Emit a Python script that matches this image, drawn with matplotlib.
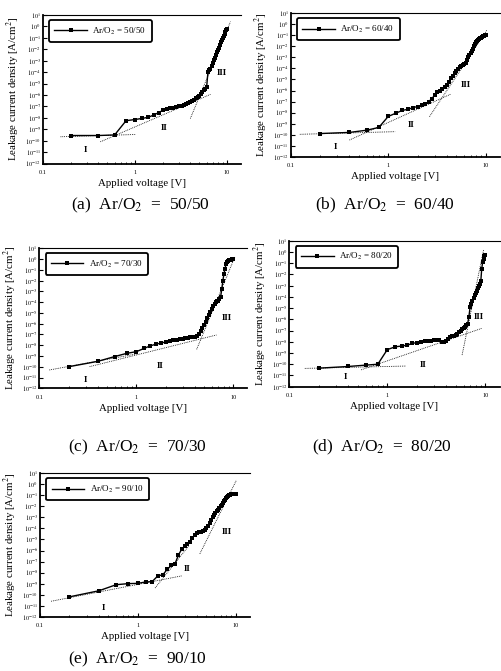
import numpy as np
import matplotlib
matplotlib.use("Agg")
import matplotlib.pyplot as plt
from matplotlib.ticker import FixedLocator, NullFormatter

plt.rcParams['font.family'] = ['Liberation Serif', 'DejaVu Serif']
plt.rcParams['mathtext.fontset'] = 'stix'

# applied voltage [V] of the measured points (same sweep in every panel)
VOLTS = [0.2, 0.4, 0.6, 0.8, 1.0, 1.2, 1.4, 1.6, 1.8, 2.0,
         2.2, 2.4, 2.6, 2.8, 3.0, 3.2, 3.4, 3.6, 3.8, 4.0,
         4.2, 4.4, 4.6, 4.8, 5.0, 5.2, 5.4, 5.6, 5.8, 6.0,
         6.2, 6.4, 6.6, 6.8, 7.0, 7.2, 7.4, 7.6, 7.8, 8.0,
         8.2, 8.4, 8.6, 8.8, 9.0, 9.2, 9.4, 9.6, 9.8, 10.0]

# log10 of leakage current density [A/cm2]
LOGJ_A = [-9.55, -9.55, -9.5, -8.25, -8.15, -8.05, -7.95, -7.75, -7.55, -7.35,
          -7.2, -7.15, -7.1, -7.05, -7.0, -6.95, -6.9, -6.8, -6.7, -6.6,
          -6.5, -6.4, -6.3, -6.2, -6.05, -5.9, -5.75, -5.6, -5.45, -5.3,
          -4.0, -3.85, -3.7, -3.45, -3.2, -2.95, -2.75, -2.5, -2.25, -2.05,
          -1.85, -1.6, -1.4, -1.2, -1.0, -0.85, -0.65, -0.5, -0.35, -0.25]
LOGJ_B = [-9.9, -9.8, -9.6, -9.35, -8.35, -8.05, -7.8, -7.7, -7.55, -7.45,
          -7.35, -7.25, -7.0, -6.75, -6.4, -6.15, -6.0, -5.85, -5.7, -5.5,
          -5.2, -4.9, -4.7, -4.45, -4.2, -4.05, -3.9, -3.8, -3.7, -3.6,
          -3.5, -3.25, -3.0, -2.8, -2.6, -2.4, -2.2, -1.95, -1.75, -1.6,
          -1.5, -1.4, -1.35, -1.25, -1.2, -1.15, -1.1, -1.05, -1.0, -0.95]
LOGJ_C = [-10.0, -9.5, -9.05, -8.75, -8.6, -8.3, -8.05, -7.9, -7.8, -7.7,
          -7.62, -7.55, -7.5, -7.45, -7.4, -7.35, -7.3, -7.28, -7.25, -7.2,
          -7.1, -6.95, -6.7, -6.4, -6.1, -5.8, -5.45, -5.15, -4.9, -4.6,
          -4.4, -4.2, -4.0, -3.9, -3.85, -3.75, -3.5, -2.8, -2.0, -1.4,
          -0.9, -0.5, -0.3, -0.2, -0.12, -0.08, -0.05, 0.0, 0.03, 0.05]
LOGJ_D = [-10.35, -10.2, -10.08, -10.0, -8.7, -8.45, -8.38, -8.3, -8.15, -8.07,
          -8.0, -7.95, -7.92, -7.9, -7.88, -7.85, -7.84, -8.05, -8.0, -7.9,
          -7.75, -7.6, -7.5, -7.45, -7.4, -7.3, -7.15, -7.0, -6.9, -6.8,
          -6.7, -6.55, -6.4, -5.8, -4.9, -4.6, -4.35, -4.1, -3.85, -3.65,
          -3.45, -3.25, -3.05, -2.85, -2.6, -1.5, -0.9, -0.6, -0.4, -0.3]
LOGJ_E = [-10.2, -9.65, -9.1, -9.0, -8.98, -8.85, -8.82, -8.3, -8.2, -7.7,
          -7.35, -7.2, -6.4, -5.9, -5.6, -5.4, -5.2, -4.9, -4.6, -4.45,
          -4.35, -4.3, -4.2, -4.1, -4.0, -3.8, -3.5, -3.25, -3.0, -2.8,
          -2.6, -2.45, -2.3, -2.15, -2.0, -1.85, -1.7, -1.55, -1.4, -1.27,
          -1.15, -1.05, -0.98, -0.95, -0.92, -0.9, -0.9, -0.88, -0.88, -0.87]

RATIOS = ["50/50", "60/40", "70/30", "80/20", "90/10"]
TAGS = ["(a)", "(b)", "(c)", "(d)", "(e)"]

# dotted fit lines: (V start, V end), (logJ start, logJ end)
FITS_A = [((0.155, 1.02), (-9.66, -9.46)), ((0.42, 6.6), (-10.1, -5.95)), ((3.99, 10.9), (-8.06, 0.42))]
FITS_B = [((0.124, 1.18), (-9.97, -9.73)), ((0.4, 4.4), (-10.49, -6.32)), ((2.65, 10.3), (-8.37, -0.51))]
FITS_C = [((0.127, 1.0), (-10.3, -8.81)), ((0.33, 6.7), (-9.99, -7.05)), ((4.19, 10.4), (-8.38, 0.23))]
FITS_D = [((0.144, 1.55), (-10.37, -10.16)), ((0.54, 9.25), (-10.5, -6.8)), ((5.8, 9.6), (-9.18, 0.17))]
FITS_E = [((0.13, 2.8), (-10.6, -8.3)), ((1.5, 3.3), (-9.4, -5.6)), ((4.3, 10.2), (-6.3, 0.4))]

# region labels: text, V, logJ
REGIONS_A = [("I", 0.29, -10.83), ("II", 2.05, -8.9), ("III", 8.8, -4.05)]
REGIONS_B = [("I", 0.287, -11.1), ("II", 1.73, -9.13), ("III", 6.2, -5.5)]
REGIONS_C = [("I", 0.3, -11.2), ("II", 1.75, -9.9), ("III", 8.5, -5.5)]
REGIONS_D = [("I", 0.37, -11.1), ("II", 2.3, -10.1), ("III", 8.5, -5.8)]
REGIONS_E = [("I", 0.44, -11.2), ("II", 3.2, -7.68), ("III", 8.05, -4.3)]

W, H = 501, 671
# axes boxes in pixels: left, right, top, bottom
BOXES = [(43, 240.5, 15, 163.5), (290.7, 500, 13.3, 156.7),
         (39.3, 247.5, 248.3, 388.3), (289.3, 499.6, 240.7, 386.7),
         (40, 250, 473.3, 616.7)]
CAPTIONS = [(140, 205), (385, 205), (137, 447), (382, 447), (137, 659)]

fig = plt.figure(figsize=(W / 100, H / 100), dpi=100)

panels = [(LOGJ_A, FITS_A, REGIONS_A), (LOGJ_B, FITS_B, REGIONS_B),
          (LOGJ_C, FITS_C, REGIONS_C), (LOGJ_D, FITS_D, REGIONS_D),
          (LOGJ_E, FITS_E, REGIONS_E)]

for i, (logj, fits, regions) in enumerate(panels):
    l, r, t, b = BOXES[i]
    ax = fig.add_axes([l / W, 1 - b / H, (r - l) / W, (b - t) / H])
    ax.set_xscale('log')
    ax.set_yscale('log')
    ax.set_xlim(0.1, 14)
    ax.set_ylim(1e-12, 1e1)

    ax.plot(VOLTS, np.power(10.0, logj), color='black', lw=1.0,
            marker='s', ms=3.3, mew=0, label="Ar/O$_2$ = " + RATIOS[i])
    for vs, js in fits:
        ax.plot(vs, np.power(10.0, js), color='black', lw=0.6, ls=(0, (1, 1.2)))
    for txt, v, lj in regions:
        ax.text(v, 10 ** lj, txt, fontsize=6.5, ha='center', va='center', fontweight='bold')

    decades = list(range(-12, 2))
    ax.yaxis.set_major_locator(FixedLocator([10.0 ** d for d in decades]))
    ax.set_yticklabels(["$10^{%d}$" % d for d in decades])
    ax.yaxis.set_minor_formatter(NullFormatter())
    ax.set_xticks([0.1, 1, 10])
    ax.set_xticklabels(["0.1", "1", "10"])
    ax.xaxis.set_minor_formatter(NullFormatter())
    ax.tick_params(which='major', direction='in', length=3, width=0.8, labelsize=4.5)
    ax.tick_params(axis='x', which='major', pad=4.5)
    ax.tick_params(axis='y', which='major', pad=1.5)
    ax.tick_params(which='minor', direction='in', length=1.5, width=0.6)
    ax.tick_params(axis='y', which='minor', length=0)

    for side in ['left', 'bottom']:
        ax.spines[side].set_linewidth(1.3)
    ax.spines['top'].set_linewidth(0.8)
    ax.spines['right'].set_visible(False)

    ax.set_xlabel("Applied voltage [V]", fontsize=7.8, labelpad=3)
    ax.set_ylabel("Leakage current density [A/cm$^2$]", fontsize=7.8, labelpad=2)

    leg = ax.legend(loc='upper left', bbox_to_anchor=(0.03, 0.965), borderaxespad=0,
                    fontsize=6.5, handlelength=3.6, handletextpad=0.6,
                    borderpad=0.6, fancybox=True, framealpha=1)
    leg.get_frame().set_edgecolor('black')
    leg.get_frame().set_linewidth(1.3)

    cx, cy = CAPTIONS[i]
    fig.text(cx / W, 1 - cy / H, TAGS[i] + "  Ar/O$_2$  =  " + RATIOS[i],
             fontsize=12.5, ha='center', va='center')

fig.savefig("out.png", dpi=100)
